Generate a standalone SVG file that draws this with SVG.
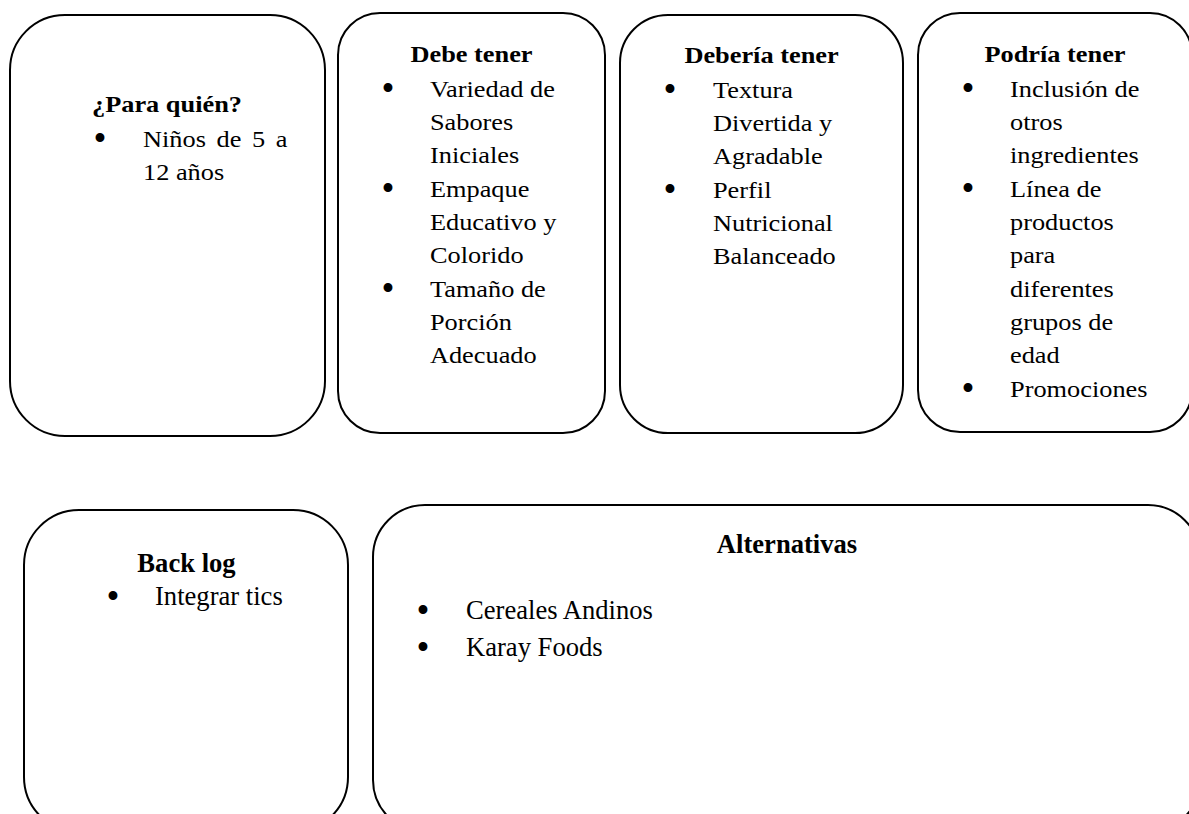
<svg xmlns="http://www.w3.org/2000/svg" width="1189" height="814" viewBox="0 0 1189 814">
<style>
.box{fill:#fff;stroke:#000;stroke-width:2}
.t{font-family:"Liberation Serif","Times New Roman",serif;fill:#000}
.top{font-size:23px}
.bot{font-size:26.6px}
.b{font-size:37px}
.h{font-weight:bold;text-anchor:middle}
</style>
<rect width="1189" height="814" fill="#fff"/>
<g id="connectors"></g>
<g id="para-quien">
<rect class="box" x="10" y="15" width="315" height="421" rx="55" ry="55"/>
<text class="t b" x="93.5" y="151">•</text>
<g transform="scale(1.145 1)">
<text class="t top h" x="145.85" y="112">¿Para quién?</text>
<text class="t top" x="124.9" y="147" word-spacing="3.5">Niños de 5 a</text>
<text class="t top" x="124.9" y="180">12 años</text>
</g>
</g>
<g id="debe-tener">
<rect class="box" x="338" y="13" width="267" height="420" rx="42" ry="42"/>
<text class="t b" x="381.5" y="101">•</text>
<text class="t b" x="381.5" y="201">•</text>
<text class="t b" x="381.5" y="301">•</text>
<g transform="scale(1.145 1)">
<text class="t top h" x="411.8" y="62">Debe tener</text>
<text class="t top" x="375.5" y="97">Variedad de</text>
<text class="t top" x="375.5" y="130">Sabores</text>
<text class="t top" x="375.5" y="163.5">Iniciales</text>
<text class="t top" x="375.5" y="197">Empaque</text>
<text class="t top" x="375.5" y="230">Educativo y</text>
<text class="t top" x="375.5" y="263.5">Colorido</text>
<text class="t top" x="375.5" y="297">Tamaño de</text>
<text class="t top" x="375.5" y="330">Porción</text>
<text class="t top" x="375.5" y="363.5">Adecuado</text>
</g>
</g>
<g id="deberia-tener">
<rect class="box" x="620" y="15" width="283" height="418" rx="48" ry="48"/>
<text class="t b" x="663.5" y="102">•</text>
<text class="t b" x="663.5" y="202">•</text>
<g transform="scale(1.145 1)">
<text class="t top h" x="665.1" y="63">Debería tener</text>
<text class="t top" x="622.7" y="98">Textura</text>
<text class="t top" x="622.7" y="131">Divertida y</text>
<text class="t top" x="622.7" y="164.5">Agradable</text>
<text class="t top" x="622.7" y="198">Perfil</text>
<text class="t top" x="622.7" y="231">Nutricional</text>
<text class="t top" x="622.7" y="264.5">Balanceado</text>
</g>
</g>
<g id="podria-tener">
<rect class="box" x="918" y="13" width="274" height="419" rx="42" ry="42"/>
<text class="t b" x="961.5" y="101">•</text>
<text class="t b" x="961.5" y="201">•</text>
<text class="t b" x="961.5" y="401">•</text>
<g transform="scale(1.145 1)">
<text class="t top h" x="921.4" y="62">Podría tener</text>
<text class="t top" x="882.1" y="97">Inclusión de</text>
<text class="t top" x="882.1" y="130">otros</text>
<text class="t top" x="882.1" y="163.5">ingredientes</text>
<text class="t top" x="882.1" y="197">Línea de</text>
<text class="t top" x="882.1" y="230">productos</text>
<text class="t top" x="882.1" y="263.5">para</text>
<text class="t top" x="882.1" y="297">diferentes</text>
<text class="t top" x="882.1" y="330">grupos de</text>
<text class="t top" x="882.1" y="363.5">edad</text>
<text class="t top" x="882.1" y="397">Promociones</text>
</g>
</g>
<g id="back-log">
<rect class="box" x="24" y="510" width="324" height="322" rx="55" ry="55"/>
<text class="t bot h" x="186.5" y="572">Back log</text>
<text class="t b" x="106.5" y="609">•</text>
<text class="t bot" x="155" y="605">Integrar tics</text>
</g>
<g id="alternativas">
<rect class="box" x="373" y="505" width="827" height="327" rx="52" ry="52"/>
<text class="t bot h" x="787" y="553">Alternativas</text>
<text class="t b" x="416.5" y="623">•</text>
<text class="t bot" x="466" y="619">Cereales Andinos</text>
<text class="t b" x="416.5" y="660">•</text>
<text class="t bot" x="466" y="656">Karay Foods</text>
</g>
</svg>
